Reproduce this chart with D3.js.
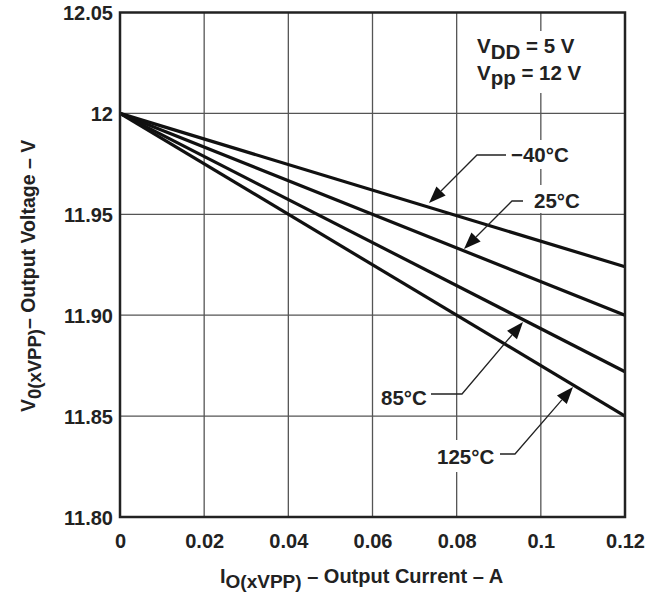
<!DOCTYPE html>
<html>
<head>
<meta charset="utf-8">
<script src="https://cdn.jsdelivr.net/npm/d3@7"></script>
<style>
  html, body { margin: 0; padding: 0; background: #fff; }
  svg { display: block; }
  text { font-family: "Liberation Sans", Arial, Helvetica, sans-serif; font-weight: bold; fill: #222; }
</style>
</head>
<body>
<svg id="chart" width="658" height="597"></svg>
<script>
// Output current (A) sampled at the start and end of the sweep
const currents = [0, 0.12];
// Output voltage (V) for each temperature curve
const temps = ["−40°C", "25°C", "85°C", "125°C"];
const voltsM40 = [12, 11.924];
const volts25 = [12, 11.90];
const volts85 = [12, 11.872];
const volts125 = [12, 11.85];
const xTicks = [0, 0.02, 0.04, 0.06, 0.08, 0.1, 0.12];
const xTickLabels = ["0", "0.02", "0.04", "0.06", "0.08", "0.1", "0.12"];
const yTicks = [11.80, 11.85, 11.90, 11.95, 12, 12.05];
const yTickLabels = ["11.80", "11.85", "11.90", "11.95", "12", "12.05"];

const svg = d3.select("#chart");
const L = 120, R = 625, T = 12.5, B = 517;
const x = d3.scaleLinear().domain([0, 0.12]).range([L, R]);
const y = d3.scaleLinear().domain([11.80, 12.05]).range([B, T]);

// grid
const grid = svg.append("g");
grid.selectAll("line.vx").data(xTicks.slice(1, -1)).join("line")
  .attr("x1", d => x(d)).attr("x2", d => x(d)).attr("y1", T).attr("y2", B)
  .attr("stroke", "#555").attr("stroke-width", 1.3);
grid.selectAll("line.hy").data(yTicks.slice(1, -1)).join("line")
  .attr("x1", L).attr("x2", R).attr("y1", d => y(d)).attr("y2", d => y(d))
  .attr("stroke", "#555").attr("stroke-width", 1.3);

// white boxes that clear the grid behind the annotations
const clears = [
  [470, 31, 124, 62],   // supply conditions
  [504, 140, 80, 29],   // -40
  [519, 185, 79, 28],   // 25
  [378, 382, 54, 32],   // 85
  [434, 440, 66, 32]    // 125
];
svg.append("g").selectAll("rect").data(clears).join("rect")
  .attr("x", d => d[0]).attr("y", d => d[1]).attr("width", d => d[2]).attr("height", d => d[3])
  .attr("fill", "#fff");

// curves
const series = [voltsM40, volts25, volts85, volts125];
const line = d3.line().x((d, i) => x(currents[i])).y(d => y(d));
svg.append("g").selectAll("path").data(series).join("path")
  .attr("d", d => line(d)).attr("fill", "none").attr("stroke", "#111")
  .attr("stroke-width", 3.2).attr("stroke-linejoin", "round");

// frame
svg.append("rect").attr("x", L).attr("y", T).attr("width", R - L).attr("height", B - T)
  .attr("fill", "none").attr("stroke", "#222").attr("stroke-width", 2.5);

// axes (labels only)
const xAxis = d3.axisBottom(x).tickValues(xTicks).tickSize(0).tickPadding(0)
  .tickFormat((d, i) => xTickLabels[i]);
const gx = svg.append("g").attr("transform", `translate(0,${B + 17})`).call(xAxis);
gx.select(".domain").remove();
gx.selectAll("text").attr("font-size", 20).attr("font-family", null).attr("dy", "0.71em")
  .attr("fill", "#222");

const yAxis = d3.axisLeft(y).tickValues(yTicks).tickSize(0).tickPadding(0)
  .tickFormat((d, i) => yTickLabels[i]);
const gy = svg.append("g").attr("transform", `translate(${L - 7},0)`).call(yAxis);
gy.select(".domain").remove();
gy.selectAll("text").attr("font-size", 20).attr("font-family", null).attr("dy", "0.35em")
  .attr("fill", "#222");

// axis titles
const xt = svg.append("text").attr("x", 220).attr("y", 583).attr("font-size", 20);
xt.append("tspan").text("I");
xt.append("tspan").attr("dy", 5).attr("font-size", 19).text("O(xVPP)");
xt.append("tspan").attr("dy", -5).text(" – Output Current – A");

const yt = svg.append("text").attr("transform", "translate(35,412) rotate(-90)").attr("font-size", 19.5);
yt.append("tspan").text("V");
yt.append("tspan").attr("dy", 6).attr("font-size", 18.5).text("0(xVPP)");
yt.append("tspan").attr("dy", -6).text("– Output Voltage – V");

// supply conditions
const c1 = svg.append("text").attr("x", 477).attr("y", 53).attr("font-size", 20.5);
c1.append("tspan").text("V");
c1.append("tspan").attr("dy", 6).text("DD");
c1.append("tspan").attr("dy", -6).text(" = 5 V");
const c2 = svg.append("text").attr("x", 477).attr("y", 80).attr("font-size", 20.5);
c2.append("tspan").text("V");
c2.append("tspan").attr("dy", 5).text("pp");
c2.append("tspan").attr("dy", -5).text(" = 12 V");

// temperature labels with leader arrows
const labels = [
  { t: temps[0], tx: 511, ty: 162, path: [[506, 155], [477, 155], [429, 203]] },
  { t: temps[1], tx: 534, ty: 208, path: [[523, 201], [512, 201], [464, 249]] },
  { t: temps[2], tx: 381, ty: 405, path: [[431, 394], [462, 394], [523, 322]] },
  { t: temps[3], tx: 437, ty: 464, path: [[500, 454], [515, 454], [573, 387]] }
];
const ann = svg.append("g");
labels.forEach(a => {
  ann.append("text").attr("x", a.tx).attr("y", a.ty).attr("font-size", 20.5).text(a.t);
  const p = a.path;
  const tip = p[p.length - 1], prev = p[p.length - 2];
  const ang = Math.atan2(tip[1] - prev[1], tip[0] - prev[0]);
  const len = 17, half = 6.5;
  const bx = tip[0] - len * Math.cos(ang), by = tip[1] - len * Math.sin(ang);
  const pts = p.slice(0, -1).concat([[bx, by]]);
  ann.append("path").attr("d", d3.line()(pts)).attr("fill", "none")
    .attr("stroke", "#222").attr("stroke-width", 1.3);
  const nx = -Math.sin(ang), ny = Math.cos(ang);
  ann.append("path")
    .attr("d", d3.line()([tip, [bx + nx * half, by + ny * half], [bx - nx * half, by - ny * half]]) + "Z")
    .attr("fill", "#111");
});
</script>
</body>
</html>
